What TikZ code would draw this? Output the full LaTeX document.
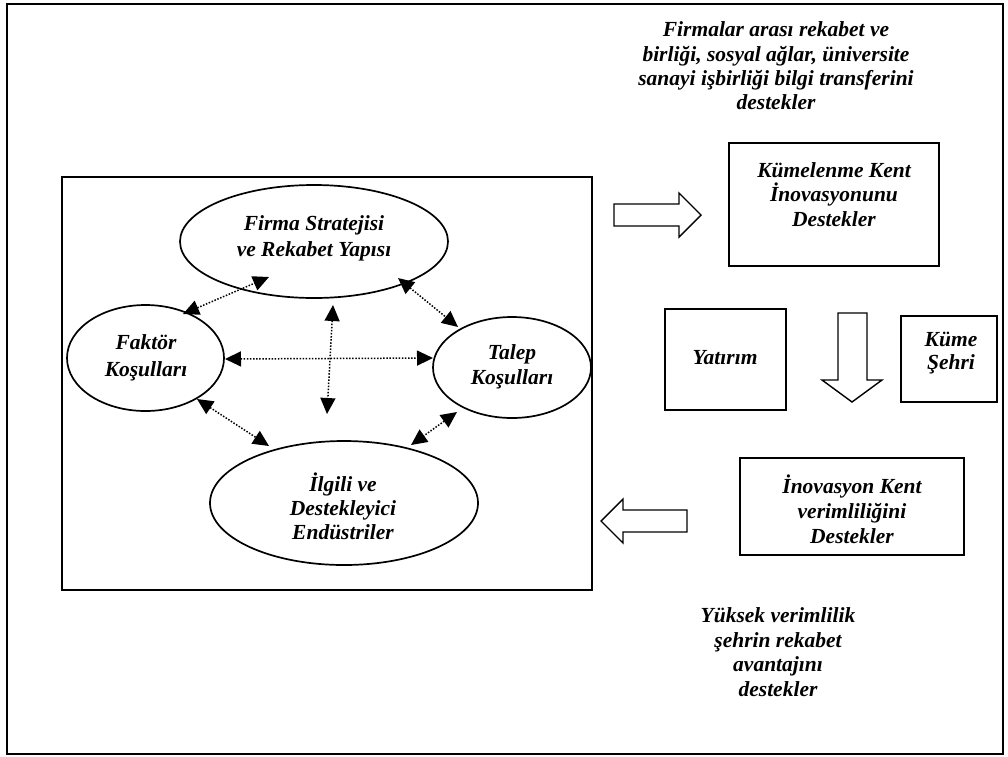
\documentclass[tikz,border=0pt]{standalone}
\usepackage{fontspec}
\setmainfont{Liberation Serif}
\usetikzlibrary{arrows.meta,shapes.geometric}
\tikzset{
  txt/.style={font=\bfseries\itshape\fontsize{21.5}{#1}\selectfont, align=center, inner sep=0pt},
  txt/.default=25,
  ell/.style={draw, ellipse, line width=1.7pt, inner sep=0pt},
  boxed/.style={draw, rectangle, line width=1.7pt, inner sep=0pt},
  dotarrow/.style={line width=1.5pt, dash pattern=on 1.5pt off 1.6pt,
    {Triangle[length=16pt,width=15pt]}-{Triangle[length=16pt,width=15pt]}},
  blockarrow/.style={draw, line width=1.4pt, line join=miter}
}
\begin{document}
\begin{tikzpicture}[x=1pt,y=-1pt]
\useasboundingbox (0,0) rectangle (1008,756);
% frames
\draw[line width=2.2pt] (7,4) rectangle (1003,754);
\draw[line width=1.7pt] (62,177) rectangle (592,590);

% ellipses
\node[ell, minimum width=268pt, minimum height=113pt] (fir) at (314,241.5) {};
\node[txt=26] (firT) at (314,238) {Firma Stratejisi\\ve Rekabet Yapısı};
\node[ell, minimum width=157pt, minimum height=106pt] (fak) at (145.5,358) {};
\node[txt=27] (fakT) at (146,357.5) {Faktör\\Koşulları};
\node[ell, minimum width=158pt, minimum height=101pt] (tal) at (512,367.5) {};
\node[txt=25] (talT) at (512,366.5) {Talep\\Koşulları};
\node[ell, minimum width=268pt, minimum height=124pt] (ilg) at (344,503) {};
\node[txt=24] (ilgT) at (343,506) {İlgili ve\\Destekleyici\\Endüstriler};

% dotted double arrows
\coordinate (a1) at (183,314); \coordinate (b1) at (269,277);
\coordinate (a2) at (197,399); \coordinate (b2) at (269,446);
\coordinate (a3) at (333,305); \coordinate (b3) at (327,414);
\coordinate (a4) at (225,359); \coordinate (b4) at (433,358);
\coordinate (a5) at (398,278); \coordinate (b5) at (458,327);
\coordinate (a6) at (457,412); \coordinate (b6) at (411,445);
\draw[dotarrow] (a1) -- (b1);
\draw[dotarrow] (a2) -- (b2);
\draw[dotarrow] (a3) -- (b3);
\draw[dotarrow] (a4) -- (b4);
\draw[dotarrow] (a5) -- (b5);
\draw[dotarrow] (a6) -- (b6);

% right side texts
\node[txt=24.3] (topT) at (776,66) {Firmalar arası rekabet ve\\birliği, sosyal ağlar, üniversite\\sanayi işbirliği bilgi transferini\\destekler};
\node[txt=24.7] (botT) at (778,652) {Yüksek verimlilik\\şehrin rekabet\\avantajını\\destekler};

% boxes
\node[boxed, minimum width=210pt, minimum height=123pt] (kum) at (834,204.5) {};
\node[txt=24.5] (kumT) at (834,194.3) {Kümelenme Kent\\İnovasyonunu\\Destekler};
\node[boxed, minimum width=121pt, minimum height=101pt] (yat) at (725.5,359.5) {};
\node[txt] (yatT) at (725,358) {Yatırım};
\node[boxed, minimum width=96pt, minimum height=86pt] (kus) at (949,359) {};
\node[txt=23] (kusT) at (951,353.5) {Küme\\Şehri};
\node[boxed, minimum width=224pt, minimum height=97pt] (ino) at (852,506.5) {};
\node[txt=25] (inoT) at (852,509.5) {İnovasyon Kent\\verimliliğini\\Destekler};

% block arrows
\draw[blockarrow] (614,204) -- (679,204) -- (679,193) -- (701,215) -- (679,237) -- (679,226) -- (614,226) -- cycle;
\draw[blockarrow] (838,313) -- (867,313) -- (867,380) -- (882,380) -- (852,402) -- (822,380) -- (838,380) -- cycle;
\draw[blockarrow] (687,510) -- (623,510) -- (623,499) -- (601,521) -- (623,543) -- (623,532) -- (687,532) -- cycle;
\end{tikzpicture}
\end{document}
